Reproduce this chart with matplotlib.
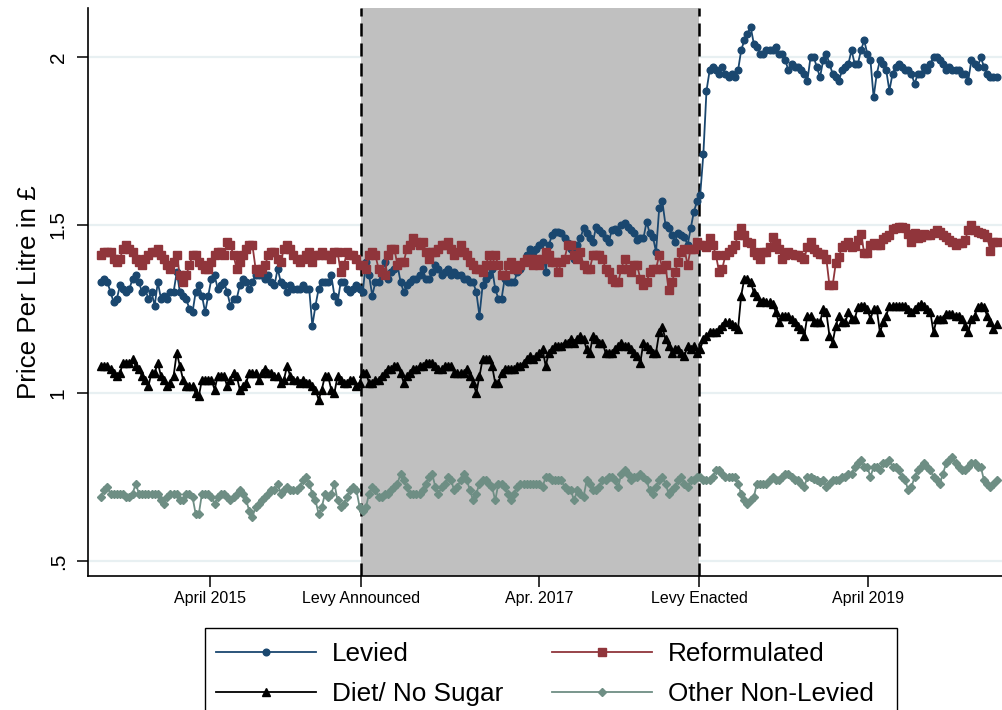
import matplotlib
matplotlib.use('Agg')
import matplotlib.pyplot as plt
from matplotlib.patches import Rectangle
import pandas as pd

# weekly average price per litre (GBP)
levied = [
    1.33, 1.34, 1.33, 1.30, 1.27, 1.28, 1.32, 1.31, 1.30, 1.31,
    1.34, 1.35, 1.33, 1.30, 1.31, 1.28, 1.30, 1.26, 1.33, 1.28,
    1.29, 1.28, 1.30, 1.30, 1.36, 1.30, 1.29, 1.28, 1.25, 1.24,
    1.30, 1.32, 1.29, 1.24, 1.29, 1.34, 1.35, 1.31, 1.32, 1.33,
    1.30, 1.26, 1.28, 1.28, 1.32, 1.34, 1.33, 1.31, 1.33, 1.35,
    1.35, 1.35, 1.34, 1.35, 1.33, 1.32, 1.37, 1.33, 1.32, 1.30,
    1.32, 1.31, 1.31, 1.31, 1.32, 1.31, 1.31, 1.20, 1.26, 1.31,
    1.33, 1.33,
    1.33, 1.35, 1.29, 1.27, 1.33, 1.33, 1.31, 1.30,
    1.31, 1.32, 1.31, 1.30, 1.39, 1.35, 1.29, 1.33, 1.33, 1.35,
    1.39, 1.34, 1.36, 1.37, 1.38, 1.33, 1.30, 1.32, 1.33, 1.34,
    1.34, 1.35, 1.37, 1.34, 1.34, 1.36, 1.38, 1.37, 1.35, 1.36,
    1.37, 1.35, 1.36, 1.35, 1.35, 1.34, 1.34, 1.33, 1.33, 1.30,
    1.23, 1.32, 1.34, 1.35, 1.37, 1.31, 1.28, 1.28, 1.34, 1.33,
    1.33, 1.33, 1.36, 1.37, 1.39, 1.41, 1.43, 1.42, 1.43, 1.44,
    1.45, 1.36, 1.44, 1.47, 1.48,
    1.48, 1.475, 1.46, 1.445, 1.43,
    1.40, 1.44, 1.46, 1.49, 1.475, 1.46, 1.45, 1.495, 1.485, 1.475,
    1.46, 1.45, 1.485, 1.487, 1.48, 1.50, 1.505, 1.495, 1.485, 1.475,
    1.455, 1.46, 1.46, 1.51, 1.475, 1.465, 1.42, 1.55, 1.57, 1.50,
    1.49, 1.47, 1.45, 1.475, 1.47, 1.465, 1.44, 1.49, 1.54, 1.57,
    1.59, 1.71, 1.90,
    1.96, 1.97, 1.96, 1.95, 1.97, 1.95, 1.94,
    1.95, 1.94, 1.96, 2.02, 2.05, 2.07, 2.09, 2.04, 2.03, 2.01,
    2.01, 2.02, 2.02, 2.02, 2.03, 2.01, 2.01, 1.99, 1.96, 1.98,
    1.97, 1.97, 1.96, 1.95, 1.93, 2.00, 2.00, 1.97, 1.94, 1.99,
    2.01, 1.98, 1.95, 1.94, 1.93, 1.96, 1.97, 1.98, 2.02, 1.98,
    1.98, 2.02, 2.05, 2.01, 1.99, 1.88, 1.95, 1.99, 1.98, 1.96,
    1.90, 1.95, 1.97, 1.98, 1.97, 1.96, 1.96, 1.95, 1.92, 1.95,
    1.95, 1.97, 1.96, 1.98, 2.00, 2.00, 1.99, 1.98, 1.96, 1.97,
    1.96, 1.96, 1.96, 1.95, 1.95, 1.93, 1.99, 1.98, 1.97, 2.00,
    1.97, 1.95, 1.94, 1.94, 1.94,
]

reformulated = [
    1.41, 1.42, 1.42, 1.42, 1.40, 1.39, 1.40, 1.43, 1.44, 1.43,
    1.42, 1.40, 1.39, 1.38, 1.40, 1.41, 1.42, 1.42, 1.43, 1.41,
    1.40, 1.38, 1.37, 1.39, 1.41, 1.35, 1.33, 1.35, 1.38, 1.41,
    1.41, 1.39, 1.38, 1.37, 1.37, 1.39, 1.41, 1.42, 1.42, 1.41,
    1.45, 1.44, 1.41, 1.37, 1.39, 1.41, 1.43, 1.44, 1.44, 1.37,
    1.36, 1.37, 1.38, 1.41, 1.42, 1.42, 1.40, 1.39, 1.43, 1.44,
    1.43, 1.41, 1.40, 1.39, 1.40, 1.41, 1.42, 1.39, 1.41, 1.41,
    1.42, 1.41,
    1.41, 1.40, 1.42, 1.42, 1.36, 1.38, 1.42, 1.41,
    1.41, 1.40, 1.38, 1.38, 1.37, 1.41, 1.42, 1.41, 1.37, 1.36,
    1.35, 1.41, 1.43, 1.43, 1.38, 1.39, 1.39, 1.43, 1.44, 1.46,
    1.45, 1.44, 1.45, 1.42, 1.40, 1.42, 1.42, 1.43, 1.44, 1.44,
    1.45, 1.43, 1.41, 1.42, 1.44, 1.42, 1.41, 1.39, 1.38, 1.37,
    1.37, 1.36, 1.38, 1.41, 1.38, 1.41, 1.38, 1.35, 1.35, 1.38,
    1.39, 1.37, 1.37, 1.38, 1.39, 1.40, 1.40, 1.38, 1.40, 1.38,
    1.40, 1.42, 1.41, 1.39, 1.39,
    1.36, 1.39, 1.40, 1.44, 1.44,
    1.41, 1.40, 1.42, 1.38, 1.37, 1.37, 1.41, 1.41, 1.41, 1.40,
    1.37, 1.36, 1.34, 1.33, 1.33, 1.37, 1.40, 1.37, 1.36, 1.38,
    1.38, 1.34, 1.32, 1.33, 1.36, 1.37, 1.37, 1.41, 1.37, 1.38,
    1.305, 1.33, 1.36, 1.39, 1.42, 1.43, 1.38, 1.43, 1.43, 1.45,
    1.44, 1.44, 1.435,
    1.46, 1.44, 1.41, 1.36, 1.37, 1.41, 1.42,
    1.43, 1.44, 1.47, 1.49, 1.47, 1.45, 1.445, 1.42, 1.41, 1.40,
    1.42, 1.42, 1.435, 1.465, 1.445, 1.43, 1.40, 1.41, 1.42, 1.415,
    1.41, 1.41, 1.405, 1.40, 1.435, 1.45, 1.43, 1.42, 1.415, 1.415,
    1.40, 1.32, 1.32, 1.386, 1.406, 1.434, 1.44, 1.45, 1.435, 1.437,
    1.455, 1.473, 1.418, 1.418, 1.44, 1.445, 1.44, 1.44, 1.457, 1.463,
    1.47, 1.487, 1.49, 1.493, 1.493, 1.49, 1.473, 1.45, 1.475, 1.46,
    1.465, 1.473, 1.47, 1.47, 1.477, 1.485, 1.48, 1.47, 1.465, 1.455,
    1.45, 1.44, 1.445, 1.445, 1.455, 1.485, 1.50, 1.485, 1.48, 1.477,
    1.473, 1.465, 1.424, 1.45, 1.45,
]

diet = [
    1.08, 1.08, 1.08, 1.07, 1.06, 1.05, 1.06, 1.09, 1.09, 1.09,
    1.10, 1.08, 1.07, 1.05, 1.04, 1.02, 1.06, 1.06, 1.09, 1.05,
    1.04, 1.02, 1.03, 1.05, 1.12, 1.08, 1.04, 1.02, 1.02, 1.02,
    1.00, 0.99, 1.04, 1.04, 1.04, 1.04, 1.01, 1.05, 1.05, 1.05,
    1.02, 1.04, 1.06, 1.05, 1.01, 1.02, 1.03, 1.06, 1.06, 1.06,
    1.04, 1.06, 1.07, 1.06, 1.06, 1.05, 1.05, 1.03, 1.04, 1.08,
    1.05, 1.04, 1.04, 1.03, 1.04, 1.03, 1.03, 1.02, 1.01, 0.98,
    1.01, 1.05,
    1.05, 1.01, 1.00, 1.05, 1.04, 1.03, 1.03, 1.04,
    1.04, 1.02, 1.03, 1.06, 1.06, 1.03, 1.03, 1.04, 1.04, 1.05,
    1.06, 1.07, 1.07, 1.08, 1.08, 1.06, 1.03, 1.05, 1.06, 1.07,
    1.07, 1.08, 1.08, 1.09, 1.09, 1.09, 1.08, 1.07, 1.07, 1.08,
    1.08, 1.08, 1.06, 1.06, 1.06, 1.06, 1.07, 1.05, 1.03, 1.00,
    1.05, 1.10, 1.10, 1.10, 1.08, 1.03, 1.03, 1.06, 1.07, 1.07,
    1.07, 1.07, 1.08, 1.08, 1.09, 1.10, 1.11, 1.10, 1.11, 1.12,
    1.13, 1.08, 1.12, 1.13, 1.14,
    1.14, 1.14, 1.15, 1.15, 1.16,
    1.15, 1.16, 1.17, 1.16, 1.13, 1.12, 1.17, 1.16, 1.15, 1.15,
    1.12, 1.12, 1.12, 1.13, 1.14, 1.15, 1.14, 1.14, 1.13, 1.12,
    1.11, 1.09, 1.15, 1.14, 1.13, 1.12, 1.12, 1.18, 1.195, 1.16,
    1.14, 1.12, 1.13, 1.13, 1.12, 1.11, 1.14, 1.13, 1.14, 1.12,
    1.13, 1.16, 1.17,
    1.18, 1.18, 1.18, 1.19, 1.20, 1.21, 1.21,
    1.205, 1.20, 1.19, 1.29, 1.34, 1.34, 1.33, 1.30, 1.29, 1.27,
    1.275, 1.27, 1.27, 1.265, 1.24, 1.21, 1.23, 1.23, 1.23, 1.22,
    1.21, 1.20, 1.19, 1.17, 1.23, 1.23, 1.21, 1.21, 1.21, 1.25,
    1.24, 1.17, 1.15, 1.20, 1.23, 1.21, 1.21, 1.24, 1.22, 1.22,
    1.255, 1.26, 1.26, 1.25, 1.22, 1.25, 1.25, 1.18, 1.21, 1.23,
    1.26, 1.26, 1.26, 1.26, 1.26, 1.26, 1.25, 1.24, 1.25, 1.26,
    1.265, 1.26, 1.25, 1.24, 1.18, 1.22, 1.22, 1.22, 1.235, 1.235,
    1.235, 1.23, 1.23, 1.22, 1.20, 1.18, 1.22, 1.23, 1.255, 1.26,
    1.255, 1.23, 1.21, 1.19, 1.205,
]

other = [
    0.69, 0.71, 0.72, 0.70, 0.70, 0.70, 0.70, 0.70, 0.69, 0.69,
    0.70, 0.73, 0.70, 0.70, 0.70, 0.70, 0.70, 0.70, 0.70, 0.68,
    0.67, 0.69, 0.70, 0.70, 0.70, 0.68, 0.68, 0.70, 0.70, 0.69,
    0.64, 0.64, 0.70, 0.70, 0.70, 0.69, 0.67, 0.69, 0.70, 0.70,
    0.69, 0.68, 0.69, 0.70, 0.71, 0.70, 0.68, 0.65, 0.63, 0.66,
    0.67, 0.68, 0.69, 0.70, 0.71, 0.71, 0.73, 0.70, 0.71, 0.72,
    0.71, 0.71, 0.71, 0.72, 0.74, 0.75, 0.73, 0.70, 0.68, 0.64,
    0.66, 0.70, 0.69, 0.70, 0.73, 0.68, 0.66, 0.67, 0.69, 0.71,
    0.72, 0.71, 0.66, 0.65, 0.66, 0.70, 0.72, 0.71, 0.69, 0.69,
    0.70, 0.70, 0.71, 0.72, 0.73, 0.76, 0.74, 0.72, 0.70, 0.70,
    0.70, 0.70, 0.71, 0.73, 0.75, 0.76, 0.72, 0.70, 0.72, 0.73,
    0.75, 0.74, 0.71, 0.72, 0.74, 0.76, 0.74, 0.71, 0.68, 0.70,
    0.73, 0.74, 0.74, 0.73, 0.72, 0.68, 0.73, 0.73, 0.72, 0.70,
    0.68, 0.70, 0.72, 0.73, 0.73, 0.73, 0.73, 0.73, 0.73,
    0.73, 0.72, 0.75, 0.75, 0.74, 0.74, 0.74, 0.74, 0.72, 0.71,
    0.71, 0.68, 0.71, 0.70, 0.69, 0.74, 0.73, 0.71, 0.71, 0.72,
    0.74, 0.74, 0.75, 0.75, 0.74, 0.72, 0.76, 0.77, 0.76, 0.74,
    0.75, 0.75, 0.76, 0.75, 0.74, 0.71, 0.70, 0.72, 0.74, 0.75,
    0.73, 0.70, 0.71, 0.72, 0.74, 0.75, 0.73, 0.72, 0.74, 0.74,
    0.75, 0.75, 0.74, 0.74, 0.74, 0.75, 0.77, 0.77, 0.76, 0.75,
    0.75, 0.75, 0.75, 0.73, 0.70, 0.68, 0.67, 0.68, 0.69, 0.73,
    0.73, 0.73, 0.73, 0.74, 0.75, 0.74, 0.74, 0.75, 0.76, 0.76,
    0.75, 0.74, 0.74, 0.73, 0.72, 0.75, 0.75, 0.745, 0.74, 0.735,
    0.74, 0.72, 0.73, 0.74, 0.74, 0.74, 0.75, 0.75, 0.76, 0.76,
    0.78, 0.79, 0.80, 0.78, 0.78, 0.75, 0.78, 0.78, 0.77, 0.79,
    0.79, 0.80, 0.78, 0.78, 0.77, 0.75, 0.74, 0.71, 0.72, 0.75,
    0.77, 0.78, 0.79, 0.78, 0.77, 0.75, 0.74, 0.73, 0.76, 0.79,
    0.80, 0.81, 0.79, 0.78, 0.77, 0.77, 0.78, 0.79, 0.79, 0.78,
    0.78, 0.74, 0.73, 0.72, 0.73, 0.74,
]

series_names = ['Levied', 'Reformulated', 'Diet/ No Sugar', 'Other Non-Levied']
tick_labels = ['April 2015', 'Levy Announced', 'Apr. 2017', 'Levy Enacted', 'April 2019']

weeks = pd.date_range('2014-08-17', periods=len(levied), freq='7D')
announced = pd.Timestamp('2016-03-16')
enacted = pd.Timestamp('2018-04-06')
tick_dates = [pd.Timestamp('2015-04-15'), announced, pd.Timestamp('2017-04-15'),
              enacted, pd.Timestamp('2019-04-15')]

plt.rcParams['font.family'] = ['Liberation Sans', 'DejaVu Sans']

W, H = 1002, 710
fig = plt.figure(figsize=(W / 100, H / 100), dpi=100)
ax = fig.add_axes([88 / W, 1 - 576 / H, 1 - 88 / W, 568 / H])

# grid first, then the grey "announcement to enactment" window on top of it
ax.set_yticks([0.5, 1, 1.5, 2])
ax.set_yticklabels(['.5', '1', '1.5', '2'])
ax.yaxis.grid(True, color='#e8f0f2', lw=1.6, zorder=0)
ax.set_axisbelow(True)
ax.axvspan(announced, enacted, color='#c0c0c0', lw=0, zorder=0.8)
for d in (announced, enacted):
    ax.axvline(d, color='black', lw=1.8, ls=(0, (5.2, 2.8)), zorder=1)

l1, = ax.plot(weeks, levied, color='#1a476f', marker='o', ms=4.8, lw=1.3, zorder=3)
l2, = ax.plot(weeks, reformulated, color='#90353b', marker='s', ms=5.2, lw=1.3, zorder=3)
l3, = ax.plot(weeks, diet, color='black', marker='^', ms=6, lw=1.3, zorder=3)
l4, = ax.plot(weeks, other, color='#6e8e84', marker='D', ms=4.2, lw=1.3, zorder=3)

ax.set_xlim(pd.Timestamp('2014-07-19'), pd.Timestamp('2020-02-07'))
ax.set_ylim(0.455, 2.146)
ax.set_xticks(tick_dates)
ax.set_xticklabels(tick_labels)

for s in ('top', 'right'):
    ax.spines[s].set_visible(False)
for s in ('left', 'bottom'):
    ax.spines[s].set_linewidth(1.2)

ax.tick_params(axis='x', length=8, width=1.1, labelsize=11.5, pad=3)
ax.tick_params(axis='y', length=8, width=1.1, labelsize=15, pad=6.5)
for lab in ax.get_yticklabels():
    lab.set_rotation(90)
    lab.set_va('center')

ax.set_ylabel('Price Per Litre in £', fontsize=18.7)
ax.yaxis.set_label_coords(-0.051, 0.5)

# legend entries without frame; the box is drawn separately so it runs off the bottom edge
leg = fig.legend([l1, l3, l2, l4],
                 [series_names[0], series_names[2], series_names[1], series_names[3]],
                 ncol=2, loc='upper left', bbox_to_anchor=(216 / W, 1 - 642 / H),
                 borderaxespad=0, borderpad=0, frameon=False, fontsize=18.8,
                 handlelength=3.83, handletextpad=0.61, columnspacing=1.87,
                 labelspacing=0.62)
fig.add_artist(Rectangle((205 / W, 1 - 716 / H), 692 / W, 88 / H,
                         transform=fig.transFigure, fill=False,
                         edgecolor='black', lw=1.0))

fig.savefig('out.png', dpi=100)
